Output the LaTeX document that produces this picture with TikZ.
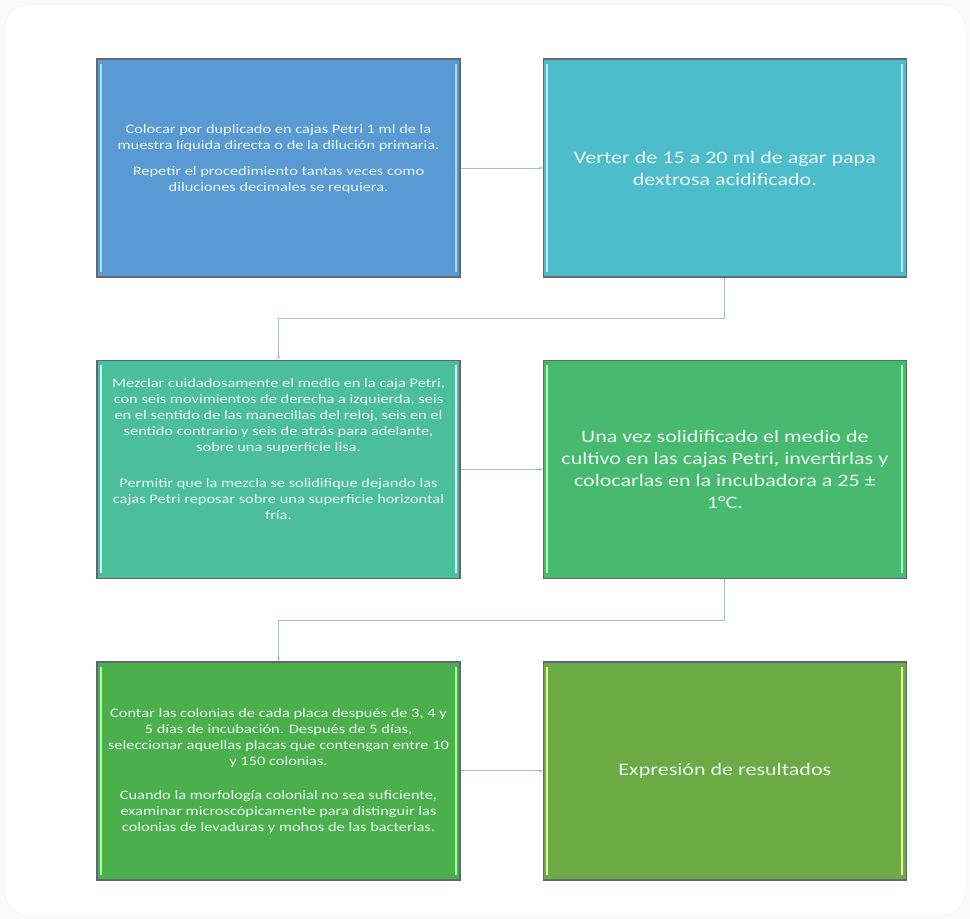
\documentclass[tikz,border=0pt]{standalone}
\usepackage{fontspec}
\setmainfont{Carlito}[FakeStretch=1.26]
\usetikzlibrary{positioning,arrows.meta,calc}

\definecolor{cBlue}{HTML}{5A9AD4}
\definecolor{cTeal}{HTML}{4DBDCB}
\definecolor{cSea}{HTML}{4BBE9E}
\definecolor{cMint}{HTML}{48BA70}
\definecolor{cGreen}{HTML}{4BB04C}
\definecolor{cOlive}{HTML}{6CAA45}
\definecolor{lnk}{HTML}{A8BCCB}
\definecolor{rim}{HTML}{5E6A70}
\definecolor{txt}{HTML}{EAF6F2}

\begin{document}
\begin{tikzpicture}[
  x=1pt, y=-1pt,
  >={Stealth[length=4pt,width=3pt]},
  card/.style 2 args={draw=rim, line width=1.4pt, fill=#1,
    minimum width=363pt, minimum height=218pt, inner sep=4pt,
    align=center, text=txt,
    path picture={
      \draw[#2, line width=2pt]
        ([xshift=4pt,yshift=-5pt]path picture bounding box.north west) --
        ([xshift=4pt,yshift=5pt]path picture bounding box.south west);
      \draw[#2, line width=2pt]
        ([xshift=-4pt,yshift=-5pt]path picture bounding box.north east) --
        ([xshift=-4pt,yshift=5pt]path picture bounding box.south east);
    }},
  small/.style={font=\fontsize{13}{16}\selectfont},
  large/.style={font=\fontsize{17.5}{22}\selectfont},
  conn/.style={draw=lnk, line width=0.9pt, ->}
]

% frame
\fill[gray!4] (0,0) rectangle (970,919);
\useasboundingbox (0,0) rectangle (970,919);
\draw[gray!12, fill=white, rounded corners=22pt] (5,5) rectangle (965,915);

% steps
\node[card={cBlue}{cyan!35}, small] (b1) at (278.5,168)
  {Colocar por duplicado en cajas Petri 1 ml de la\\
   muestra líquida directa o de la dilución primaria.\\[10pt]
   Repetir el procedimiento tantas veces como\\
   diluciones decimales se requiera.\\[4pt]\mbox{}};
\node[card={cTeal}{cyan!25}, large, right=82pt of b1] (b2)
  {Verter de 15 a 20 ml de agar papa\\dextrosa acidificado.};
\node[card={cSea}{green!15!cyan!20}, small, below=82pt of b1] (b3)
  {Mezclar cuidadosamente el medio en la caja Petri,\\
   con seis movimientos de derecha a izquierda, seis\\
   en el sentido de las manecillas del reloj, seis en el\\
   sentido contrario y seis de atrás para adelante,\\
   sobre una superficie lisa.\\[20pt]
   Permitir que la mezcla se solidifique dejando las\\
   cajas Petri reposar sobre una superficie horizontal\\
   fría.\\[24pt]\mbox{}};
\node[card={cMint}{green!30}, large, right=82pt of b3] (b4)
  {Una vez solidificado el medio de\\
   cultivo en las cajas Petri, invertirlas y\\
   colocarlas en la incubadora a 25 ±\\
   1°C.};
\node[card={cGreen}{green!35}, small, below=82pt of b3] (b5)
  {Contar las colonias de cada placa después de 3, 4 y\\
   5 días de incubación. Después de 5 días,\\
   seleccionar aquellas placas que contengan entre 10\\
   y 150 colonias.\\[18pt]
   Cuando la morfología colonial no sea suficiente,\\
   examinar microscópicamente para distinguir las\\
   colonias de levaduras y mohos de las bacterias.};
\node[card={cOlive}{lime!40}, large, right=82pt of b5] (b6)
  {Expresión de resultados};

% links
\draw[conn] (b1) -- (b2);
\draw[conn] (b2.south) -- ++(0,41) -| (b3.north);
\draw[conn] (b3) -- (b4);
\draw[conn] (b4.south) -- ++(0,41) -| (b5.north);
\draw[conn] (b5) -- (b6);
\end{tikzpicture}
\end{document}
